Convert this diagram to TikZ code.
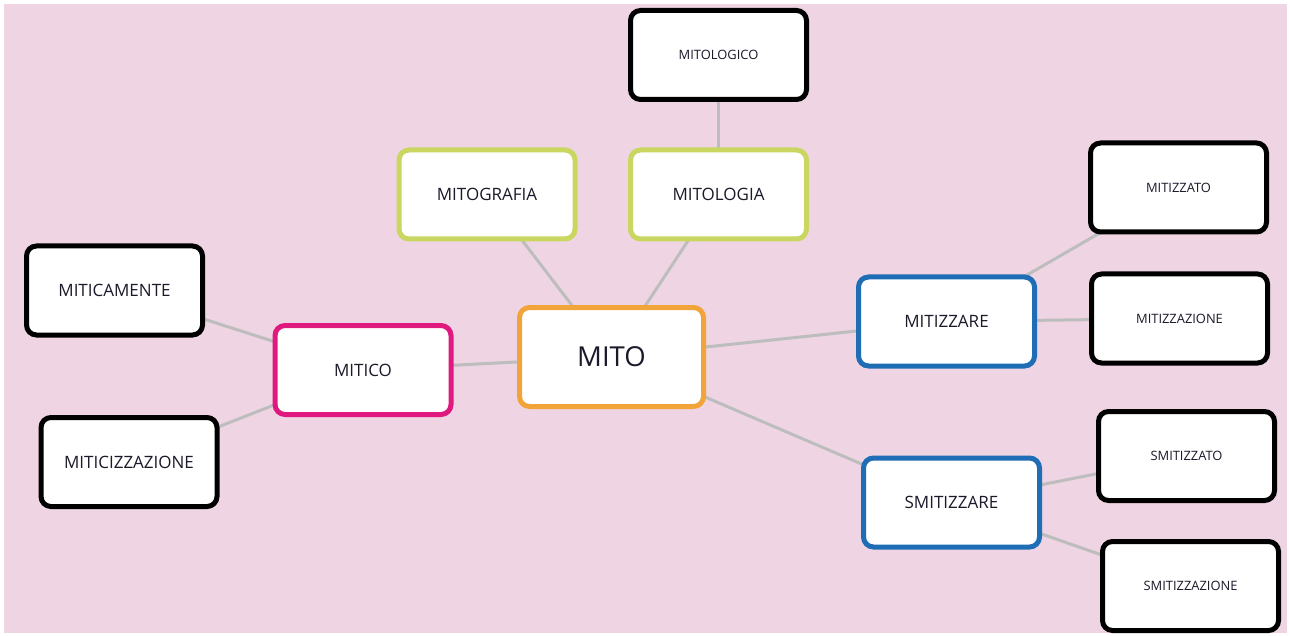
\documentclass[tikz,border=0pt]{standalone}
\usepackage{fontspec}
\setmainfont{Open Sans}
\usetikzlibrary{backgrounds}
\definecolor{bgpink}{HTML}{EFD5E3}
\definecolor{edgegrey}{HTML}{BDBDBD}
\definecolor{txt}{HTML}{1A1A2A}
\definecolor{cgreen}{HTML}{C9D65F}
\definecolor{cblue}{HTML}{1F6DB5}
\definecolor{cmag}{HTML}{E0197F}
\definecolor{corange}{HTML}{F0A43A}
\tikzset{
  box/.style={draw, fill=white, line width=5pt, rounded corners=10pt,
    minimum width=176pt, minimum height=89pt, inner sep=0pt, text=txt, align=center},
  leaf/.style={box, draw=black, font=\fontsize{12.9}{15}\selectfont},
  midleaf/.style={box, draw=black, font=\fontsize{17}{19}\selectfont},
  lvlg/.style={box, draw=cgreen, font=\fontsize{17}{19}\selectfont},
  lvlb/.style={box, draw=cblue, font=\fontsize{17}{19}\selectfont},
  lvlm/.style={box, draw=cmag, font=\fontsize{17}{19}\selectfont},
  root/.style={box, draw=corange, minimum width=184pt, minimum height=99pt, font=\fontsize{27.5}{32}\selectfont},
  link/.style={draw=edgegrey, line width=3pt}
}
\begin{document}
\begin{tikzpicture}[x=1pt,y=-1pt]
\useasboundingbox (0,0) rectangle (1290,636);
\node[root] (mito) at (611.5,357) {MITO};
\node[lvlg] (mitografia) at (487,194.5) {MITOGRAFIA};
\node[lvlg] (mitologia) at (718.5,194.5) {MITOLOGIA};
\node[leaf] (mitologico) at (718.5,55) {MITOLOGICO};
\node[lvlm] (mitico) at (363,370) {MITICO};
\node[midleaf] (miticamente) at (114.5,290.5) {MITICAMENTE};
\node[midleaf] (miticizzazione) at (129,462) {MITICIZZAZIONE};
\node[lvlb] (mitizzare) at (946.5,321.5) {MITIZZARE};
\node[leaf] (mitizzato) at (1178.5,187.5) {MITIZZATO};
\node[leaf] (mitizzazione) at (1179.5,318.5) {MITIZZAZIONE};
\node[lvlb] (smitizzare) at (951.5,502.5) {SMITIZZARE};
\node[leaf] (smitizzato) at (1186.5,456) {SMITIZZATO};
\node[leaf] (smitizzazione) at (1190.5,586) {SMITIZZAZIONE};
\begin{scope}[on background layer]
\fill[bgpink] (4,4) rectangle (1287,633);
\draw[link] (mito.center) -- (mitografia.center);
\draw[link] (mito.center) -- (mitologia.center);
\draw[link] (mitologia.center) -- (mitologico.center);
\draw[link] (mito.center) -- (mitico.center);
\draw[link] (mitico.center) -- (miticamente.center);
\draw[link] (mitico.center) -- (miticizzazione.center);
\draw[link] (mito.center) -- (mitizzare.center);
\draw[link] (mitizzare.center) -- (mitizzato.center);
\draw[link] (mitizzare.center) -- (mitizzazione.center);
\draw[link] (mito.center) -- (smitizzare.center);
\draw[link] (smitizzare.center) -- (smitizzato.center);
\draw[link] (smitizzare.center) -- (smitizzazione.center);
\end{scope}
\end{tikzpicture}
\end{document}
